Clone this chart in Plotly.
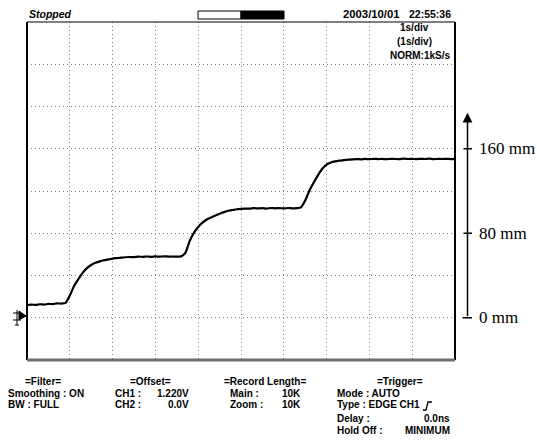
import plotly.graph_objects as go

# ---------------- data (time in s, position in mm) ----------------
time_s = [0.0, 0.1, 0.2, 0.3, 0.4, 0.5, 0.6, 0.7, 0.8, 0.9,
          1.0, 1.1, 1.2, 1.3, 1.4, 1.5, 1.6, 1.7, 1.8, 1.9,
          2.0, 2.1, 2.2, 2.3, 2.4, 2.5, 2.6, 2.7, 2.8, 2.9,
          3.0, 3.1, 3.2, 3.3, 3.4, 3.5, 3.6, 3.7, 3.8, 3.9,
          4.0, 4.1, 4.2, 4.3, 4.4, 4.5, 4.6, 4.7, 4.8, 4.9,
          5.0, 5.1, 5.2, 5.3, 5.4, 5.5, 5.6, 5.7, 5.8, 5.9,
          6.0, 6.1, 6.2, 6.3, 6.4, 6.5, 6.6, 6.7, 6.8, 6.9,
          7.0, 7.1, 7.2, 7.3, 7.4, 7.5, 7.6, 7.7, 7.8, 7.9,
          8.0, 8.1, 8.2, 8.3, 8.4, 8.5, 8.6, 8.7, 8.8, 8.9,
          9.0, 9.1, 9.2, 9.3, 9.4, 9.5, 9.6, 9.7, 9.8, 9.9, 10.0]
position_mm = [12.0, 12.4, 12.2, 12.8, 12.5, 13.1, 12.9, 13.6, 13.4, 14.0,
               21.0, 30.0, 36.5, 42.5, 47.0, 50.0, 52.0, 53.4, 54.4, 55.2,
               56.0, 56.5, 57.0, 57.3, 57.5, 57.4, 57.9, 57.6, 58.0, 57.7,
               58.1, 57.8, 58.2, 57.9, 58.0, 57.8, 58.1, 61.5, 72.5, 80.5,
               86.0, 90.0, 93.0, 95.0, 96.8, 98.5, 100.0, 101.3, 102.0, 102.7,
               103.1, 103.4, 103.3, 103.7, 103.5, 103.8, 103.4, 103.9, 103.6, 103.8,
               103.5, 103.9, 103.6, 103.8, 104.5, 111.0, 120.5, 128.0, 135.0, 141.0,
               145.0, 147.0, 148.0, 148.7, 149.2, 149.7, 150.0, 150.2, 150.0, 150.4,
               150.1, 150.5, 150.2, 150.4, 150.1, 150.5, 150.3, 150.2, 150.6, 150.3,
               150.4, 150.2, 150.5, 150.3, 150.6, 150.2, 150.4, 150.3, 150.5, 150.2, 150.4]

scale_ticks_mm = [0, 80, 160]
scale_labels = ["0 mm", "80 mm", "160 mm"]
arrow_top_mm = 194

# ---------------- geometry helpers ----------------
W, H = 537, 445
L, R, T, B = 27, 455, 22, 360


def px(xp):
    return (xp - L) / (R - L)


def py(yp):
    return (B - yp) / (B - T)


fig = go.Figure()
fig.add_trace(go.Scatter(x=time_s, y=position_mm, mode="lines",
                         line=dict(color="black", width=2.2, shape="spline", smoothing=0.5),
                         showlegend=False, hoverinfo="skip"))

grid = dict(showgrid=True, gridcolor="#808080", gridwidth=1, griddash="1px,3px",
            zeroline=False, showticklabels=False, ticks="", showline=False)
fig.update_xaxes(range=[0, 10], dtick=1, tick0=0, **grid)
fig.update_yaxes(range=[-40, 280], dtick=40, tick0=-40, **grid)

shapes = []
# frame
shapes.append(dict(type="line", xref="paper", yref="paper", x0=0, x1=1, y0=1, y1=1,
                   line=dict(color="black", width=1)))
shapes.append(dict(type="line", xref="paper", yref="paper", x0=0, x1=0, y0=0, y1=1,
                   line=dict(color="black", width=2)))
shapes.append(dict(type="line", xref="paper", yref="paper", x0=1, x1=1, y0=0, y1=1,
                   line=dict(color="black", width=2)))
shapes.append(dict(type="line", xref="paper", yref="paper", x0=0, x1=1, y0=0, y1=0,
                   line=dict(color="#6e6e6e", width=3)))
# status bar
shapes.append(dict(type="rect", xref="paper", yref="paper", x0=px(198), x1=px(241),
                   y0=py(19), y1=py(11), fillcolor="white", line=dict(color="black", width=1)))
shapes.append(dict(type="rect", xref="paper", yref="paper", x0=px(241), x1=px(284),
                   y0=py(19), y1=py(11), fillcolor="black", line=dict(color="black", width=1)))
# ground marker
shapes.append(dict(type="path", xref="paper", yref="paper",
                   path=f"M {px(19)} {py(311)} L {px(26)} {py(316)} L {px(19)} {py(320)} Z",
                   fillcolor="black", line=dict(color="black", width=1)))
shapes.append(dict(type="line", xref="paper", yref="paper", x0=px(17), x1=px(17),
                   y0=py(310), y1=py(325), line=dict(color="black", width=1)))
shapes.append(dict(type="line", xref="paper", yref="paper", x0=px(13), x1=px(21),
                   y0=py(313), y1=py(313), line=dict(color="black", width=1)))
shapes.append(dict(type="line", xref="paper", yref="paper", x0=px(13), x1=px(21),
                   y0=py(320), y1=py(320), line=dict(color="black", width=1)))
shapes.append(dict(type="line", xref="paper", yref="paper", x0=px(15), x1=px(19),
                   y0=py(325), y1=py(325), line=dict(color="black", width=1)))
# right scale ticks
for v in scale_ticks_mm:
    x0 = 462.5 if v == 0 else 463.5
    shapes.append(dict(type="line", xref="paper", yref="y", x0=px(x0), x1=px(472),
                       y0=v, y1=v, line=dict(color="black", width=1.5)))
# trigger edge symbol
shapes.append(dict(type="path", xref="paper", yref="paper",
                   path=(f"M {px(423)} {py(410)} L {px(426)} {py(410)} L {px(428)} {py(402)} "
                         f"L {px(432)} {py(402)}"),
                   line=dict(color="black", width=1.3)))

annotations = []
# right scale arrow (axis line)
annotations.append(dict(x=px(467.5), xref="paper", y=arrow_top_mm, yref="y",
                        ax=0, ay=205, axref="pixel", ayref="pixel", text="",
                        showarrow=True, arrowhead=2, arrowsize=1.3, arrowwidth=1.5,
                        arrowcolor="black"))
for v, lab in zip(scale_ticks_mm, scale_labels):
    annotations.append(dict(x=px(477), xref="paper", y=v, yref="y", text=lab,
                            showarrow=False, xanchor="left", yanchor="middle",
                            font=dict(family="Liberation Serif", size=17, color="black")))

scope_font = dict(family="Liberation Sans", size=10, color="black")


def txt(xp, yp, s, anchor="left", size=10):
    annotations.append(dict(x=px(xp), y=py(yp), xref="paper", yref="paper", text=s,
                            showarrow=False, xanchor=anchor, yanchor="middle",
                            font=dict(family="Liberation Sans", size=size, color="black")))


txt(27, 14, "<b><i>Stopped</i></b>", size=10.5)
txt(341, 14, "<b>2003/10/01</b>", size=11.3)
txt(453, 14, "<b>22:55:36</b>", "right", size=10.5)
txt(414, 28, "<b>1s/div</b>", "center")
txt(414, 41.5, "<b>(1s/div)</b>", "center")
txt(452, 55, "<b>NORM:1kS/s</b>", "right")

r1, r2, r3, r4, r5 = 381, 393, 405, 418, 430
txt(43, r1, "<b>=Filter=</b>", "center")
txt(6, r2, "<b>Smoothing : ON</b>")
txt(6, r3, "<b>BW : FULL</b>")
txt(150, r1, "<b>=Offset=</b>", "center")
txt(113, r2, "<b>CH1 :</b>")
txt(191, r2, "<b>1.220V</b>", "right")
txt(113, r3, "<b>CH2 :</b>")
txt(191, r3, "<b>0.0V</b>", "right")
txt(265, r1, "<b>=Record Length=</b>", "center")
txt(228, r2, "<b>Main :</b>")
txt(303, r2, "<b>10K</b>", "right")
txt(228, r3, "<b>Zoom :</b>")
txt(303, r3, "<b>10K</b>", "right")
txt(400, r1, "<b>=Trigger=</b>", "center")
txt(335, r2, "<b>Mode : AUTO</b>")
txt(335, r3, "<b>Type : EDGE CH1</b>")
txt(335, r4, "<b>Delay :</b>")
txt(452, r4, "<b>0.0ns</b>", "right")
txt(335, r5, "<b>Hold Off :</b>")
txt(452, r5, "<b>MINIMUM</b>", "right")

fig.update_layout(width=W, height=H, margin=dict(l=L, r=W - R, t=T, b=H - B),
                  paper_bgcolor="white", plot_bgcolor="white",
                  shapes=shapes, annotations=annotations, showlegend=False)

fig.write_html("out.html")
